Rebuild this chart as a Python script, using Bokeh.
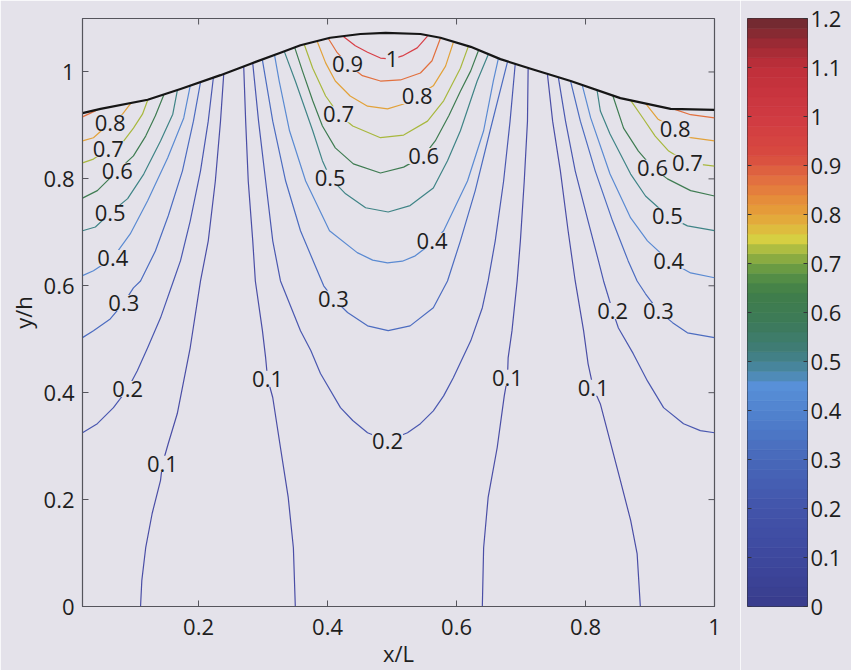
import math
from bokeh.plotting import figure
from bokeh.models import Range1d, FixedTicker, CustomJSTickFormatter, ColumnDataSource, LabelSet
from bokeh.layouts import row
from bokeh.embed import file_html
from bokeh.resources import INLINE
from bokeh.core.properties import value

BG = "#e4e2ea"
FONT = "Open Sans"
AXC = "#55555c"
TXT = "#1e1e1e"

# ---------------- data ----------------
x_ticks = [0.2, 0.4, 0.6, 0.8, 1.0]
y_ticks = [0.0, 0.2, 0.4, 0.6, 0.8, 1.0]
cb_ticks = [0.0, 0.1, 0.2, 0.3, 0.4, 0.5, 0.6, 0.7, 0.8, 0.9, 1.0, 1.1, 1.2]

# upper boundary of the domain
top_x = [0.020, 0.048, 0.121, 0.172, 0.234, 0.280, 0.327, 0.358, 0.404, 0.451, 0.490,
         0.544, 0.575, 0.622, 0.668, 0.715, 0.777, 0.854, 0.932, 1.000]
top_y = [0.923, 0.931, 0.948, 0.968, 0.994, 1.015, 1.036, 1.050, 1.064, 1.071, 1.073,
         1.071, 1.064, 1.047, 1.024, 1.006, 0.983, 0.951, 0.931, 0.929]

levels = [0.1, 0.2, 0.3, 0.4, 0.5, 0.6, 0.7, 0.8, 0.9, 1.0]

c01_x = [[0.110, 0.112, 0.118, 0.128, 0.141, 0.144, 0.153, 0.167, 0.187, 0.203, 0.215, 0.226, 0.234, 0.239],
         [0.350, 0.347, 0.339, 0.327, 0.315, 0.307, 0.304, 0.299, 0.288, 0.284, 0.277, 0.273, 0.270],
         [0.640, 0.642, 0.649, 0.663, 0.674, 0.679, 0.680, 0.686, 0.694, 0.699, 0.705, 0.710, 0.711],
         [0.885, 0.880, 0.870, 0.854, 0.838, 0.823, 0.812, 0.804, 0.797, 0.784, 0.773, 0.761, 0.749, 0.741]]
c01_y = [[0.000, 0.049, 0.110, 0.174, 0.236, 0.267, 0.305, 0.361, 0.484, 0.609, 0.684, 0.796, 0.908, 0.996],
         [0.000, 0.110, 0.204, 0.297, 0.391, 0.426, 0.465, 0.516, 0.609, 0.684, 0.796, 0.908, 1.010],
         [0.000, 0.110, 0.204, 0.297, 0.394, 0.428, 0.465, 0.516, 0.609, 0.684, 0.796, 0.908, 1.006],
         [0.000, 0.099, 0.161, 0.236, 0.310, 0.379, 0.409, 0.454, 0.516, 0.609, 0.703, 0.815, 0.908, 0.995]]

c02_x = [[0.020, 0.043, 0.068, 0.090, 0.105, 0.121, 0.141, 0.161, 0.172, 0.187, 0.203, 0.215, 0.223],
         [0.284, 0.293, 0.304, 0.315, 0.327, 0.358, 0.374, 0.389, 0.420, 0.439, 0.462, 0.493, 0.524,
          0.544, 0.564, 0.580, 0.595, 0.622, 0.640, 0.649, 0.660, 0.673, 0.683, 0.691],
         [1.000, 0.978, 0.952, 0.921, 0.896, 0.874, 0.851, 0.842, 0.834, 0.828, 0.820, 0.804, 0.784, 0.769, 0.758]]
c02_y = [[0.325, 0.342, 0.372, 0.407, 0.441, 0.484, 0.540, 0.609, 0.647, 0.721, 0.815, 0.908, 0.990],
         [1.016, 0.908, 0.796, 0.684, 0.609, 0.516, 0.479, 0.436, 0.372, 0.348, 0.325, 0.310, 0.325,
          0.342, 0.366, 0.394, 0.428, 0.497, 0.559, 0.609, 0.684, 0.796, 0.908, 1.015],
         [0.325, 0.329, 0.342, 0.372, 0.422, 0.473, 0.521, 0.553, 0.585, 0.609, 0.647, 0.721, 0.815, 0.908, 0.989]]

c03_x = [[0.020, 0.037, 0.063, 0.084, 0.099, 0.110, 0.133, 0.153, 0.175, 0.192, 0.203],
         [0.299, 0.315, 0.335, 0.358, 0.381, 0.394, 0.409, 0.431, 0.462, 0.494, 0.528, 0.564, 0.586,
          0.606, 0.629, 0.652, 0.679],
         [1.000, 0.958, 0.935, 0.913, 0.893, 0.880, 0.866, 0.842, 0.815, 0.792, 0.777]]
c03_y = [[0.503, 0.516, 0.538, 0.568, 0.596, 0.609, 0.665, 0.731, 0.815, 0.908, 0.981],
         [1.022, 0.908, 0.796, 0.703, 0.637, 0.600, 0.576, 0.550, 0.525, 0.516, 0.525, 0.559, 0.609,
          0.684, 0.778, 0.890, 1.019],
         [0.503, 0.512, 0.531, 0.553, 0.585, 0.609, 0.647, 0.721, 0.815, 0.908, 0.982]]

c04_x = [[0.020, 0.037, 0.067, 0.094, 0.121, 0.152, 0.177, 0.187],
         [0.318, 0.325, 0.341, 0.366, 0.403, 0.446, 0.470, 0.493, 0.516, 0.536, 0.562, 0.580, 0.617,
          0.642, 0.657, 0.665],
         [1.000, 0.963, 0.929, 0.896, 0.870, 0.838, 0.808, 0.795]]
c04_y = [[0.619, 0.628, 0.652, 0.697, 0.759, 0.839, 0.914, 0.974],
         [1.030, 0.983, 0.890, 0.796, 0.703, 0.662, 0.648, 0.643, 0.646, 0.656, 0.680, 0.703, 0.796,
          0.890, 0.983, 1.026],
         [0.615, 0.624, 0.647, 0.684, 0.727, 0.809, 0.914, 0.975]]

c05_x = [[0.020, 0.040, 0.063, 0.090, 0.115, 0.141, 0.160, 0.167],
         [0.333, 0.350, 0.377, 0.392, 0.404, 0.428, 0.459, 0.494, 0.528, 0.564, 0.586, 0.606, 0.632, 0.649],
         [1.000, 0.958, 0.927, 0.893, 0.870, 0.838, 0.823, 0.818]]
c05_y = [[0.703, 0.710, 0.736, 0.763, 0.809, 0.871, 0.921, 0.965],
         [1.038, 0.983, 0.890, 0.834, 0.802, 0.772, 0.746, 0.738, 0.750, 0.783, 0.834, 0.890, 0.983, 1.032],
         [0.703, 0.712, 0.731, 0.768, 0.809, 0.884, 0.927, 0.965]]

c06_x = [[0.020, 0.043, 0.074, 0.099, 0.118, 0.133, 0.146],
         [0.349, 0.361, 0.377, 0.392, 0.412, 0.440, 0.482, 0.518, 0.549, 0.567, 0.588, 0.606, 0.622, 0.634],
         [1.000, 0.963, 0.927, 0.904, 0.882, 0.859, 0.842]]
c06_y = [[0.764, 0.778, 0.815, 0.843, 0.880, 0.918, 0.957],
         [1.046, 1.002, 0.946, 0.899, 0.858, 0.828, 0.811, 0.822, 0.843, 0.871, 0.918, 0.964, 1.002, 1.040],
         [0.768, 0.778, 0.800, 0.821, 0.852, 0.895, 0.957]]

c07_x = [[0.020, 0.037, 0.060, 0.084, 0.099, 0.113, 0.121],
         [0.364, 0.377, 0.397, 0.417, 0.439, 0.482, 0.518, 0.555, 0.580, 0.606, 0.618],
         [1.000, 0.958, 0.929, 0.908, 0.890, 0.870]]
c07_y = [[0.830, 0.837, 0.856, 0.871, 0.895, 0.921, 0.947],
         [1.051, 1.007, 0.955, 0.921, 0.899, 0.877, 0.882, 0.908, 0.946, 1.007, 1.047],
         [0.824, 0.830, 0.852, 0.880, 0.912, 0.947]]

c08_x = [[0.020, 0.037, 0.063, 0.082, 0.096],
         [0.384, 0.397, 0.412, 0.435, 0.462, 0.493, 0.518, 0.539, 0.564, 0.583, 0.595],
         [1.000, 0.963, 0.939, 0.912, 0.893]]
c08_y = [[0.871, 0.877, 0.905, 0.921, 0.943],
         [1.057, 1.017, 0.983, 0.955, 0.936, 0.931, 0.940, 0.955, 0.974, 1.011, 1.055],
         [0.871, 0.877, 0.893, 0.912, 0.941]]

c09_x = [[0.020, 0.043],
         [0.401, 0.415, 0.431, 0.454, 0.482, 0.513, 0.544, 0.562, 0.575],
         [1.000, 0.963, 0.936]]
c09_y = [[0.916, 0.929],
         [1.063, 1.036, 1.015, 0.993, 0.983, 0.985, 0.998, 1.021, 1.063],
         [0.914, 0.920, 0.931]]

c10_x = [[0.425, 0.443, 0.462, 0.482, 0.500, 0.516, 0.539, 0.555]]
c10_y = [[1.066, 1.049, 1.037, 1.026, 1.024, 1.030, 1.045, 1.067]]

lab_x = [0.063, 0.060, 0.074, 0.063, 0.067, 0.084, 0.090, 0.144,
         0.307, 0.409, 0.493, 0.562, 0.404, 0.549, 0.417, 0.539, 0.431, 0.500,
         0.679, 0.812, 0.842, 0.913, 0.929, 0.927, 0.904, 0.958, 0.939]
lab_y = [0.905, 0.856, 0.815, 0.736, 0.652, 0.568, 0.407, 0.267,
         0.426, 0.576, 0.310, 0.684, 0.802, 0.843, 0.921, 0.955, 1.015, 1.024,
         0.428, 0.409, 0.553, 0.553, 0.647, 0.731, 0.821, 0.830, 0.893]
lab_t = ["0.8", "0.7", "0.6", "0.5", "0.4", "0.3", "0.2", "0.1",
         "0.1", "0.3", "0.2", "0.4", "0.5", "0.6", "0.7", "0.8", "0.9", "1",
         "0.1", "0.1", "0.2", "0.3", "0.4", "0.5", "0.6", "0.7", "0.8"]

# ---------------- colour map (style) ----------------
cmap_anchor_v = [0.00, 0.10, 0.20, 0.30, 0.38, 0.45, 0.48, 0.52, 0.58, 0.64, 0.68, 0.72, 0.75,
                 0.78, 0.82, 0.87, 0.92, 1.00, 1.10, 1.15, 1.20]
cmap_anchor_c = ["#383c8c", "#3e489e", "#4254aa", "#4868ba", "#4f7ecb", "#5890d8", "#4a88a8",
                 "#3f7d7a", "#3d7a58", "#3f7e4a", "#5a9244", "#9ab440", "#d6cf42", "#e2b23c",
                 "#e69438", "#e27040", "#d84a40", "#d03a42", "#bf2f3a", "#9a2a34", "#6a2a30"]


def _rgb(h):
    return tuple(int(h[i:i + 2], 16) for i in (1, 3, 5))


def cmap(v):
    vs, cs = cmap_anchor_v, cmap_anchor_c
    if v <= vs[0]:
        return cs[0]
    for i in range(1, len(vs)):
        if v <= vs[i]:
            t = (v - vs[i - 1]) / (vs[i] - vs[i - 1])
            a, b = _rgb(cs[i - 1]), _rgb(cs[i])
            return "#%02x%02x%02x" % tuple(int(round(a[k] + t * (b[k] - a[k]))) for k in range(3))
    return cs[-1]


line_cols = ["#4a4ea6", "#4a58b0", "#4c6cc0", "#5a8ad2", "#3f8486", "#3f7c52",
             "#a8b83e", "#e2a23a", "#e2703e", "#d84048"]

fmt = CustomJSTickFormatter(code="return Number(tick.toFixed(2)).toString();")

# ---------------- main figure ----------------
X0, X1, Y0, Y1 = 0.02, 1.0, 0.0, 1.1
p = figure(width=740, height=670, x_range=Range1d(X0, X1), y_range=Range1d(Y0, Y1),
           output_backend="svg", toolbar_location=None,
           min_border_left=82, min_border_right=26, min_border_top=18, min_border_bottom=64,
           background_fill_color=BG, border_fill_color=BG,
           outline_line_color=AXC, outline_line_width=1.2)
p.grid.visible = False

xa = p.xaxis[0]
ya = p.yaxis[0]
for ax, ticks in ((xa, x_ticks), (ya, y_ticks)):
    ax.ticker = FixedTicker(ticks=ticks)
    ax.formatter = fmt
    ax.major_tick_in = 6
    ax.major_tick_out = 0
    ax.minor_tick_line_color = None
    ax.major_tick_line_color = AXC
    ax.axis_line_color = AXC
    ax.major_label_text_font = FONT
    ax.major_label_text_font_size = "22px"
    ax.major_label_text_color = TXT
    ax.axis_label_text_font = FONT
    ax.axis_label_text_font_size = "22px"
    ax.axis_label_text_font_style = "normal"
    ax.axis_label_text_color = TXT
xa.axis_label = "x/L"
ya.axis_label = "y/h"
xa.major_label_standoff = 12
xa.axis_label_standoff = 0
ya.major_label_standoff = 8
ya.axis_label_standoff = 3

# tick marks on the top and right sides of the box
p.ray(x=x_ticks, y=Y1, length=6, length_units="screen", angle=-math.pi / 2,
      line_color=AXC, line_width=1)
p.ray(x=X1, y=y_ticks, length=6, length_units="screen", angle=math.pi,
      line_color=AXC, line_width=1)

all_x = [c01_x, c02_x, c03_x, c04_x, c05_x, c06_x, c07_x, c08_x, c09_x, c10_x]
all_y = [c01_y, c02_y, c03_y, c04_y, c05_y, c06_y, c07_y, c08_y, c09_y, c10_y]
for col, xs, ys in zip(line_cols, all_x, all_y):
    p.multi_line(xs=xs, ys=ys, line_color=col, line_width=1.2, line_join="round")

p.line(top_x, top_y, line_color="#161616", line_width=2.2, line_join="round")

lab_src = ColumnDataSource(dict(x=lab_x, y=lab_y, t=lab_t))
labels = LabelSet(x="x", y="y", text="t", source=lab_src,
                  text_align="center", text_baseline="middle",
                  text_font=value(FONT), text_font_size=value("22px"), text_color=TXT,
                  background_fill_color=BG, background_fill_alpha=1.0)
p.add_layout(labels)

# ---------------- colour bar ----------------
cb_edges = [i * 0.02 for i in range(61)]
cb_bottom = cb_edges[:-1]
cb_top = cb_edges[1:]
cb_cols = [cmap(0.5 * (a + b)) for a, b in zip(cb_bottom, cb_top)]

cb = figure(width=111, height=670, x_range=Range1d(0, 1), y_range=Range1d(0, 1.2),
            output_backend="svg", toolbar_location=None,
            x_axis_location=None, y_axis_location="right",
            min_border_left=7, min_border_right=44, min_border_top=18, min_border_bottom=64,
            background_fill_color=BG, border_fill_color=BG,
            outline_line_color="#333338", outline_line_width=1.0)
cb.grid.visible = False
cb.quad(left=0, right=1, bottom=cb_bottom, top=cb_top, fill_color=cb_cols, line_color=cb_cols,
        line_width=0.6)
cb.ray(x=0, y=cb_ticks, length=4, length_units="screen", angle=0, line_color="#333338", line_width=1)
cya = cb.yaxis[0]
cya.ticker = FixedTicker(ticks=cb_ticks)
cya.formatter = fmt
cya.major_tick_in = 4
cya.major_tick_out = 0
cya.minor_tick_line_color = None
cya.major_tick_line_color = "#333338"
cya.axis_line_color = None
cya.major_label_text_font = FONT
cya.major_label_text_font_size = "22px"
cya.major_label_text_color = TXT
cya.major_label_standoff = 3

layout = row(p, cb)
open("out.html", "w").write(file_html(layout, INLINE))
